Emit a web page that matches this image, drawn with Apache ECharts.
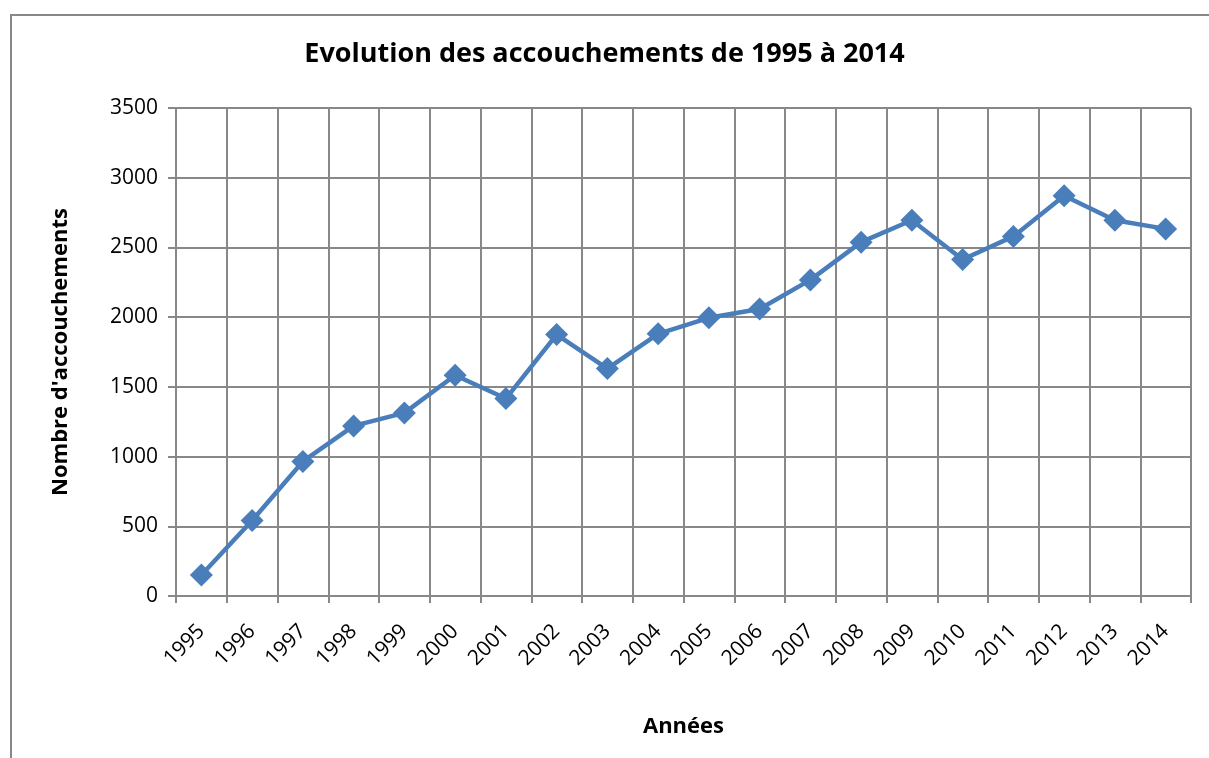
<!DOCTYPE html>
<html>
<head>
	<meta charset="utf-8" />
	<title>Evolution des accouchements</title>
	<script type="text/javascript" src="https://cdn.jsdelivr.net/npm/echarts@6/dist/echarts.min.js"></script>
	<style>
		html, body {margin:0;padding:0;background:#fff;}
		#chart {width:1209px;height:758px;}
	</style>
</head>
<body>
	<div id="chart"></div>

	<script>
		var years = ['1995','1996','1997','1998','1999','2000','2001','2002','2003','2004',
		             '2005','2006','2007','2008','2009','2010','2011','2012','2013','2014'];
		var accouchements = [150, 542, 965, 1220, 1313, 1583, 1416, 1875, 1631, 1880,
		                     1995, 2058, 2267, 2538, 2695, 2413, 2579, 2870, 2695, 2633];

		var font = 'Open Sans';
		var chart = echarts.init(document.getElementById('chart'));

		var option = {
			animation: false,
			textStyle: {fontFamily: font},
			graphic: [
				// cadre du graphique
				{type: 'rect', shape: {x: 11, y: 15, width: 1220, height: 780}, style: {fill: 'none', stroke: '#888', lineWidth: 2}, silent: true}
			],
			title: {
				text: 'Evolution des accouchements de 1995 à 2014',
				left: 'center',
				top: 36,
				textStyle: {fontFamily: font, fontSize: 27, fontWeight: 'bold', color: '#000'}
			},
			grid: {left: 176, right: 18, top: 108, bottom: 162, containLabel: false},
			xAxis: {
				type: 'category',
				data: years,
				boundaryGap: true,
				name: 'Années',
				nameLocation: 'middle',
				nameGap: 120,
				nameTextStyle: {fontFamily: font, fontSize: 22, fontWeight: 'bold', color: '#000'},
				axisLine: {lineStyle: {color: '#888', width: 2}},
				axisTick: {show: true, length: 7, lineStyle: {color: '#888', width: 2}},
				axisLabel: {rotate: 45, fontSize: 21, color: '#000', margin: 32, interval: 0},
				splitLine: {show: true, lineStyle: {color: '#888', width: 2}}
			},
			yAxis: {
				type: 'value',
				min: 0,
				max: 3500,
				interval: 500,
				name: "Nombre d'accouchements",
				nameLocation: 'middle',
				nameGap: 104,
				nameTextStyle: {fontFamily: font, fontSize: 22, fontWeight: 'bold', color: '#000'},
				axisLine: {show: true, lineStyle: {color: '#888', width: 2}},
				axisTick: {show: true, length: 8, lineStyle: {color: '#888', width: 2}},
				axisLabel: {fontSize: 21, color: '#000', margin: 18, formatter: function (v) { return String(v); }},
				splitLine: {show: true, lineStyle: {color: '#888', width: 2}}
			},
			series: [
				{
					type: 'line',
					data: accouchements,
					symbol: 'diamond',
					symbolSize: 23,
					lineStyle: {color: '#4a7ebb', width: 4.5},
					itemStyle: {color: '#4a7ebb'}
				}
			]
		};

		chart.setOption(option);
	</script>
</body>
</html>
